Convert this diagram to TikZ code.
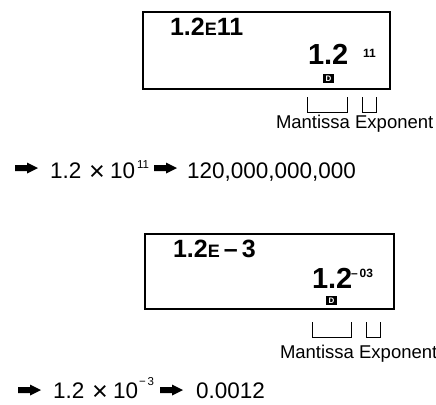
\documentclass[tikz,border=0pt]{standalone}
\usepackage{fontspec}
\setmainfont{Liberation Sans}
\tikzset{
  txt/.style={inner sep=0pt, outer sep=0pt, anchor=base west},
  lcd/.style={txt, font=\fontsize{25}{30}\selectfont\bfseries},
  big/.style={txt, font=\fontsize{29}{34}\selectfont\bfseries},
  expo/.style={txt, font=\fontsize{12}{14}\selectfont\bfseries},
  lbl/.style={txt, font=\fontsize{18.5}{22}\selectfont},
  line/.style={txt, font=\fontsize{22.5}{26}\selectfont},
  times/.style={inner sep=0pt, outer sep=0pt, anchor=base, font=\fontsize{27}{28}\selectfont},
  sup/.style={txt, font=\fontsize{11.5}{13}\selectfont},
  frame/.style={draw, line width=1.4pt},
  brk/.style={draw, line width=0.9pt},
  dmark/.style={fill=black, text=white, inner sep=0pt, minimum width=11pt, minimum height=9pt, font=\fontsize{8}{9}\selectfont\bfseries}
}
\newcommand{\smE}{{\fontsize{18}{20}\selectfont E}}
\newcommand{\thickarrow}[2]{% left x, centre y
  \fill (#1,#2-3) -- (#1+12,#2-3) -- (#1+12,#2-5.5) -- (#1+23,#2) -- (#1+12,#2+5.5) -- (#1+12,#2+3) -- (#1,#2+3) -- cycle;}
\begin{document}
\begin{tikzpicture}[x=1pt,y=-1pt]
\useasboundingbox (0,0) rectangle (436,404);
% ---------- first display ----------
\draw[frame] (143,12) rectangle (390,89);
\node[lcd] (t1) at (170,36) {1.2\smE 11};
\node[big] (m1) at (308,64) {1.2};
\node[expo] (e1) at (363,57) {11};
\node[dmark] (d1) at (328.5,78.5) {D};
\draw[brk] (307,97) |- (347,112) -- (347,97);
\draw[brk] (362,97) |- (376,112) -- (376,97);
\node[lbl] (l1) at (276,128) {Mantissa Exponent};
% ---------- first line ----------
\thickarrow{15}{168}
\node[line] (n1) at (50,178) {1.2};
\node[times] (x1) at (97,180) {×};
\node[line] (ten1) at (110,178) {10};
\node[sup] (s1) at (137,168) {11};
\thickarrow{154}{168}
\node[line] (r1) at (187,178) {120,000,000,000};
% ---------- second display ----------
\draw[frame] (145,234) rectangle (394,309);
\node[lcd] (t2) at (173,257) {1.2\smE\,–\,3};
\node[big] (m2) at (312,288) {1.2};
\node[expo] (e2) at (351,277) {–\,03};
\node[dmark] (d2) at (331.5,300.5) {D};
\draw[brk] (312,322) |- (351,337) -- (351,322);
\draw[brk] (366,322) |- (380,337) -- (380,322);
\node[lbl] (l2) at (280,358) {Mantissa Exponent};
% ---------- second line ----------
\thickarrow{18}{390}
\node[line] (n2) at (53,398) {1.2};
\node[times] (x2) at (100,400) {×};
\node[line] (ten2) at (113,398) {10};
\node[sup] (s2) at (139,385) {−\,3};
\thickarrow{160}{390}
\node[line] (r2) at (196,398) {0.0012};
\end{tikzpicture}
\end{document}
